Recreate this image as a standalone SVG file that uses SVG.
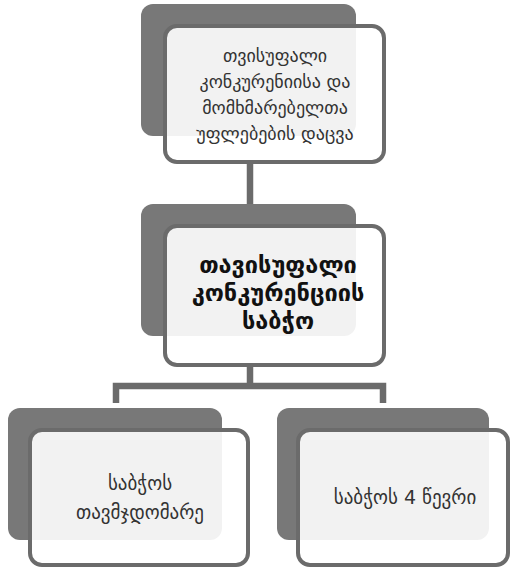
<svg xmlns="http://www.w3.org/2000/svg" width="510" height="568" viewBox="0 0 510 568">
<style>
.back{fill:#787878;}
.front{fill:#ffffff;fill-opacity:0.9;stroke:#6b6b6b;stroke-width:4;}
.conn{fill:none;stroke:#6b6b6b;stroke-width:6.5;}
.t{font-family:"DejaVu Sans","Noto Sans",sans-serif;fill:#333333;text-anchor:middle;dominant-baseline:central;}
.tb{font-family:"DejaVu Sans","Noto Sans",sans-serif;fill:#111111;text-anchor:middle;dominant-baseline:central;font-weight:bold;}
</style>
<rect width="510" height="568" fill="#ffffff"/>
<g id="connectors">
<path class="conn" d="M250 162 V226"/>
<path class="conn" d="M250 365 V386 M116 403 V386 H383 V403"/>
</g>
<g id="node-top">
<rect class="back" x="141" y="4" width="215" height="132" rx="12"/>
<rect class="front" x="165" y="26" width="219" height="136" rx="12"/>
<text class="t" font-size="18" x="275" y="55">თვისუფალი</text>
<text class="t" font-size="18" x="275" y="81">კონკურენიისა და</text>
<text class="t" font-size="18" x="275" y="107">მომხმარებელთა</text>
<text class="t" font-size="18" x="275" y="133">უფლებების დაცვა</text>
</g>
<g id="node-middle">
<rect class="back" x="141" y="204" width="215" height="132" rx="12"/>
<rect class="front" x="165" y="226" width="219" height="139" rx="12"/>
<text class="tb" font-size="23.5" x="278" y="265">თავისუფალი</text>
<text class="tb" font-size="23.5" x="278" y="293">კონკურენციის</text>
<text class="tb" font-size="23.5" x="278" y="321">საბჭო</text>
</g>
<g id="node-left">
<rect class="back" x="8" y="408" width="214" height="132" rx="12"/>
<rect class="front" x="30" y="430" width="218" height="135" rx="12"/>
<text class="t" font-size="19" x="140" y="483">საბჭოს</text>
<text class="t" font-size="19" x="140" y="512">თავმჯდომარე</text>
</g>
<g id="node-right">
<rect class="back" x="277" y="408" width="212" height="132" rx="12"/>
<rect class="front" x="298" y="430" width="210" height="135" rx="12"/>
<text class="t" font-size="19" x="405" y="497">საბჭოს 4 წევრი</text>
</g>
</svg>
